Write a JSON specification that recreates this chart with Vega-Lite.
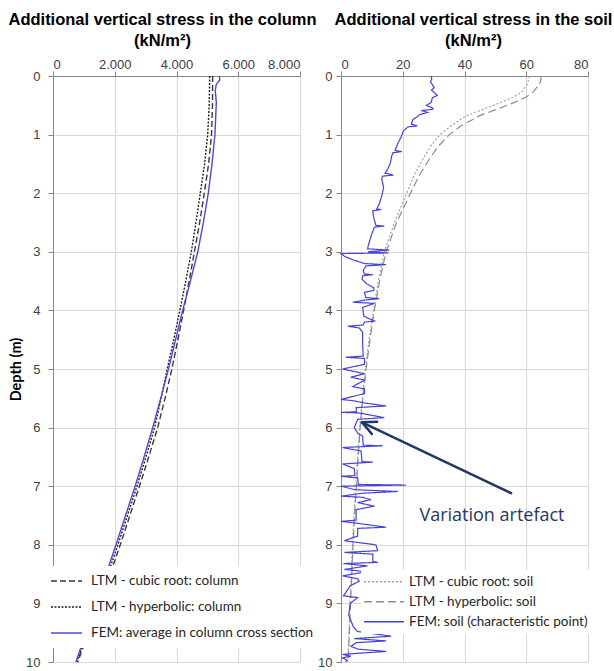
{
  "$schema": "https://vega.github.io/schema/vega-lite/v6.json",
  "background": "white",
  "padding": {"left": 7, "top": 11, "right": 0, "bottom": 0},
  "spacing": 41,
  "bounds": "flush",
  "config": {
    "view": {"stroke": null},
    "axis": {
      "gridColor": "#d9d9d9",
      "domainColor": "#868686",
      "tickColor": "#868686",
      "tickSize": 5,
      "labelFont": "Liberation Sans",
      "labelFontSize": 13,
      "labelColor": "#404040",
      "titleFont": "Liberation Sans",
      "titleFontWeight": "bold",
      "titleColor": "#000000"
    }
  },
  "datasets": {
    "column": [
      {"series": "LTM - cubic root: column", "depth": 0, "stress": 5170},
      {"series": "LTM - cubic root: column", "depth": 0.5, "stress": 5165},
      {"series": "LTM - cubic root: column", "depth": 1, "stress": 5135},
      {"series": "LTM - cubic root: column", "depth": 1.5, "stress": 5040},
      {"series": "LTM - cubic root: column", "depth": 2, "stress": 4900},
      {"series": "LTM - cubic root: column", "depth": 2.5, "stress": 4750},
      {"series": "LTM - cubic root: column", "depth": 3, "stress": 4580},
      {"series": "LTM - cubic root: column", "depth": 3.5, "stress": 4410},
      {"series": "LTM - cubic root: column", "depth": 4, "stress": 4230},
      {"series": "LTM - cubic root: column", "depth": 4.5, "stress": 4045},
      {"series": "LTM - cubic root: column", "depth": 5, "stress": 3850},
      {"series": "LTM - cubic root: column", "depth": 5.5, "stress": 3630},
      {"series": "LTM - cubic root: column", "depth": 6, "stress": 3390},
      {"series": "LTM - cubic root: column", "depth": 6.5, "stress": 3100},
      {"series": "LTM - cubic root: column", "depth": 7, "stress": 2800},
      {"series": "LTM - cubic root: column", "depth": 7.5, "stress": 2490},
      {"series": "LTM - cubic root: column", "depth": 8, "stress": 2180},
      {"series": "LTM - cubic root: column", "depth": 8.5, "stress": 1850},
      {"series": "LTM - cubic root: column", "depth": 9, "stress": 1500},
      {"series": "LTM - cubic root: column", "depth": 9.5, "stress": 1150},
      {"series": "LTM - cubic root: column", "depth": 10, "stress": 800},
      {"series": "LTM - hyperbolic: column", "depth": 0, "stress": 5075},
      {"series": "LTM - hyperbolic: column", "depth": 0.5, "stress": 5060},
      {"series": "LTM - hyperbolic: column", "depth": 1, "stress": 5010},
      {"series": "LTM - hyperbolic: column", "depth": 1.5, "stress": 4910},
      {"series": "LTM - hyperbolic: column", "depth": 2, "stress": 4770},
      {"series": "LTM - hyperbolic: column", "depth": 2.5, "stress": 4630},
      {"series": "LTM - hyperbolic: column", "depth": 3, "stress": 4480},
      {"series": "LTM - hyperbolic: column", "depth": 3.5, "stress": 4300},
      {"series": "LTM - hyperbolic: column", "depth": 4, "stress": 4110},
      {"series": "LTM - hyperbolic: column", "depth": 4.5, "stress": 3910},
      {"series": "LTM - hyperbolic: column", "depth": 5, "stress": 3700},
      {"series": "LTM - hyperbolic: column", "depth": 5.5, "stress": 3500},
      {"series": "LTM - hyperbolic: column", "depth": 6, "stress": 3290},
      {"series": "LTM - hyperbolic: column", "depth": 6.5, "stress": 3010},
      {"series": "LTM - hyperbolic: column", "depth": 7, "stress": 2720},
      {"series": "LTM - hyperbolic: column", "depth": 7.5, "stress": 2410},
      {"series": "LTM - hyperbolic: column", "depth": 8, "stress": 2100},
      {"series": "LTM - hyperbolic: column", "depth": 8.5, "stress": 1780},
      {"series": "LTM - hyperbolic: column", "depth": 9, "stress": 1450},
      {"series": "LTM - hyperbolic: column", "depth": 9.5, "stress": 1110},
      {"series": "LTM - hyperbolic: column", "depth": 10, "stress": 770},
      {"series": "FEM: average in column cross section", "depth": 0, "stress": 5390},
      {"series": "FEM: average in column cross section", "depth": 0.07, "stress": 5400},
      {"series": "FEM: average in column cross section", "depth": 0.14, "stress": 5290},
      {"series": "FEM: average in column cross section", "depth": 0.25, "stress": 5255},
      {"series": "FEM: average in column cross section", "depth": 0.45, "stress": 5290},
      {"series": "FEM: average in column cross section", "depth": 1, "stress": 5245},
      {"series": "FEM: average in column cross section", "depth": 1.5, "stress": 5150},
      {"series": "FEM: average in column cross section", "depth": 2, "stress": 5030},
      {"series": "FEM: average in column cross section", "depth": 2.5, "stress": 4870},
      {"series": "FEM: average in column cross section", "depth": 3, "stress": 4690},
      {"series": "FEM: average in column cross section", "depth": 3.5, "stress": 4450},
      {"series": "FEM: average in column cross section", "depth": 4, "stress": 4200},
      {"series": "FEM: average in column cross section", "depth": 4.5, "stress": 3970},
      {"series": "FEM: average in column cross section", "depth": 5, "stress": 3740},
      {"series": "FEM: average in column cross section", "depth": 5.5, "stress": 3490},
      {"series": "FEM: average in column cross section", "depth": 6, "stress": 3230},
      {"series": "FEM: average in column cross section", "depth": 6.5, "stress": 2950},
      {"series": "FEM: average in column cross section", "depth": 7, "stress": 2660},
      {"series": "FEM: average in column cross section", "depth": 7.5, "stress": 2350},
      {"series": "FEM: average in column cross section", "depth": 8, "stress": 2040},
      {"series": "FEM: average in column cross section", "depth": 8.5, "stress": 1720},
      {"series": "FEM: average in column cross section", "depth": 9, "stress": 1400},
      {"series": "FEM: average in column cross section", "depth": 9.5, "stress": 1070},
      {"series": "FEM: average in column cross section", "depth": 10, "stress": 740}
    ],
    "soil": [
      {"series": "LTM - cubic root: soil", "depth": 0, "stress": 60.8},
      {"series": "LTM - cubic root: soil", "depth": 0.07, "stress": 60.7},
      {"series": "LTM - cubic root: soil", "depth": 0.14, "stress": 60.3},
      {"series": "LTM - cubic root: soil", "depth": 0.28, "stress": 58.4},
      {"series": "LTM - cubic root: soil", "depth": 0.37, "stress": 55.5},
      {"series": "LTM - cubic root: soil", "depth": 0.45, "stress": 51.9},
      {"series": "LTM - cubic root: soil", "depth": 0.56, "stress": 46.4},
      {"series": "LTM - cubic root: soil", "depth": 0.68, "stress": 40.5},
      {"series": "LTM - cubic root: soil", "depth": 0.85, "stress": 35.7},
      {"series": "LTM - cubic root: soil", "depth": 1, "stress": 32.1},
      {"series": "LTM - cubic root: soil", "depth": 1.2, "stress": 29.0},
      {"series": "LTM - cubic root: soil", "depth": 1.42, "stress": 26.5},
      {"series": "LTM - cubic root: soil", "depth": 1.7, "stress": 23.6},
      {"series": "LTM - cubic root: soil", "depth": 2, "stress": 21.3},
      {"series": "LTM - cubic root: soil", "depth": 2.5, "stress": 17.3},
      {"series": "LTM - cubic root: soil", "depth": 3, "stress": 14.0},
      {"series": "LTM - cubic root: soil", "depth": 3.5, "stress": 12.1},
      {"series": "LTM - cubic root: soil", "depth": 4, "stress": 10.5},
      {"series": "LTM - cubic root: soil", "depth": 4.5, "stress": 9.1},
      {"series": "LTM - cubic root: soil", "depth": 5, "stress": 7.9},
      {"series": "LTM - cubic root: soil", "depth": 5.5, "stress": 6.9},
      {"series": "LTM - cubic root: soil", "depth": 6, "stress": 6.0},
      {"series": "LTM - cubic root: soil", "depth": 6.5, "stress": 5.4},
      {"series": "LTM - cubic root: soil", "depth": 7, "stress": 4.8},
      {"series": "LTM - cubic root: soil", "depth": 7.5, "stress": 4.2},
      {"series": "LTM - cubic root: soil", "depth": 8, "stress": 3.7},
      {"series": "LTM - cubic root: soil", "depth": 8.5, "stress": 3.3},
      {"series": "LTM - cubic root: soil", "depth": 9, "stress": 2.9},
      {"series": "LTM - cubic root: soil", "depth": 9.5, "stress": 2.6},
      {"series": "LTM - cubic root: soil", "depth": 10, "stress": 2.2},
      {"series": "LTM - hyperbolic: soil", "depth": 0, "stress": 64.8},
      {"series": "LTM - hyperbolic: soil", "depth": 0.07, "stress": 64.7},
      {"series": "LTM - hyperbolic: soil", "depth": 0.14, "stress": 64.3},
      {"series": "LTM - hyperbolic: soil", "depth": 0.28, "stress": 62.1},
      {"series": "LTM - hyperbolic: soil", "depth": 0.37, "stress": 59.5},
      {"series": "LTM - hyperbolic: soil", "depth": 0.45, "stress": 56.2},
      {"series": "LTM - hyperbolic: soil", "depth": 0.56, "stress": 50.8},
      {"series": "LTM - hyperbolic: soil", "depth": 0.68, "stress": 44.8},
      {"series": "LTM - hyperbolic: soil", "depth": 0.85, "stress": 38.9},
      {"series": "LTM - hyperbolic: soil", "depth": 1, "stress": 35.1},
      {"series": "LTM - hyperbolic: soil", "depth": 1.2, "stress": 31.5},
      {"series": "LTM - hyperbolic: soil", "depth": 1.42, "stress": 28.6},
      {"series": "LTM - hyperbolic: soil", "depth": 1.7, "stress": 25.3},
      {"series": "LTM - hyperbolic: soil", "depth": 2, "stress": 22.5},
      {"series": "LTM - hyperbolic: soil", "depth": 2.5, "stress": 18.0},
      {"series": "LTM - hyperbolic: soil", "depth": 3, "stress": 14.6},
      {"series": "LTM - hyperbolic: soil", "depth": 3.5, "stress": 12.5},
      {"series": "LTM - hyperbolic: soil", "depth": 4, "stress": 10.8},
      {"series": "LTM - hyperbolic: soil", "depth": 4.5, "stress": 9.4},
      {"series": "LTM - hyperbolic: soil", "depth": 5, "stress": 8.1},
      {"series": "LTM - hyperbolic: soil", "depth": 5.5, "stress": 7.1},
      {"series": "LTM - hyperbolic: soil", "depth": 6, "stress": 6.2},
      {"series": "LTM - hyperbolic: soil", "depth": 6.5, "stress": 5.6},
      {"series": "LTM - hyperbolic: soil", "depth": 7, "stress": 5.0},
      {"series": "LTM - hyperbolic: soil", "depth": 7.5, "stress": 4.4},
      {"series": "LTM - hyperbolic: soil", "depth": 8, "stress": 3.9},
      {"series": "LTM - hyperbolic: soil", "depth": 8.5, "stress": 3.5},
      {"series": "LTM - hyperbolic: soil", "depth": 9, "stress": 3.1},
      {"series": "LTM - hyperbolic: soil", "depth": 9.5, "stress": 2.7},
      {"series": "LTM - hyperbolic: soil", "depth": 10, "stress": 2.4},
      {"series": "FEM: soil (characteristic point)", "depth": 0.00, "stress": 29.2},
      {"series": "FEM: soil (characteristic point)", "depth": 0.05, "stress": 29.4},
      {"series": "FEM: soil (characteristic point)", "depth": 0.10, "stress": 29.0},
      {"series": "FEM: soil (characteristic point)", "depth": 0.15, "stress": 29.6},
      {"series": "FEM: soil (characteristic point)", "depth": 0.20, "stress": 30.2},
      {"series": "FEM: soil (characteristic point)", "depth": 0.24, "stress": 29.3},
      {"series": "FEM: soil (characteristic point)", "depth": 0.30, "stress": 30.6},
      {"series": "FEM: soil (characteristic point)", "depth": 0.33, "stress": 31.2},
      {"series": "FEM: soil (characteristic point)", "depth": 0.37, "stress": 29.6},
      {"series": "FEM: soil (characteristic point)", "depth": 0.45, "stress": 29.2},
      {"series": "FEM: soil (characteristic point)", "depth": 0.50, "stress": 27.6},
      {"series": "FEM: soil (characteristic point)", "depth": 0.55, "stress": 29.8},
      {"series": "FEM: soil (characteristic point)", "depth": 0.57, "stress": 29.6},
      {"series": "FEM: soil (characteristic point)", "depth": 0.59, "stress": 26.0},
      {"series": "FEM: soil (characteristic point)", "depth": 0.62, "stress": 28.1},
      {"series": "FEM: soil (characteristic point)", "depth": 0.66, "stress": 25.4},
      {"series": "FEM: soil (characteristic point)", "depth": 0.70, "stress": 24.6},
      {"series": "FEM: soil (characteristic point)", "depth": 0.74, "stress": 23.3},
      {"series": "FEM: soil (characteristic point)", "depth": 0.82, "stress": 22.8},
      {"series": "FEM: soil (characteristic point)", "depth": 0.85, "stress": 24.7},
      {"series": "FEM: soil (characteristic point)", "depth": 0.87, "stress": 21.6},
      {"series": "FEM: soil (characteristic point)", "depth": 0.94, "stress": 20.2},
      {"series": "FEM: soil (characteristic point)", "depth": 1.05, "stress": 19.4},
      {"series": "FEM: soil (characteristic point)", "depth": 1.15, "stress": 18.4},
      {"series": "FEM: soil (characteristic point)", "depth": 1.27, "stress": 17.5},
      {"series": "FEM: soil (characteristic point)", "depth": 1.29, "stress": 19.7},
      {"series": "FEM: soil (characteristic point)", "depth": 1.31, "stress": 16.8},
      {"series": "FEM: soil (characteristic point)", "depth": 1.37, "stress": 16.4},
      {"series": "FEM: soil (characteristic point)", "depth": 1.50, "stress": 15.9},
      {"series": "FEM: soil (characteristic point)", "depth": 1.58, "stress": 15.2},
      {"series": "FEM: soil (characteristic point)", "depth": 1.66, "stress": 14.3},
      {"series": "FEM: soil (characteristic point)", "depth": 1.69, "stress": 17.0},
      {"series": "FEM: soil (characteristic point)", "depth": 1.71, "stress": 13.4},
      {"series": "FEM: soil (characteristic point)", "depth": 1.76, "stress": 13.2},
      {"series": "FEM: soil (characteristic point)", "depth": 1.90, "stress": 13.8},
      {"series": "FEM: soil (characteristic point)", "depth": 2.05, "stress": 13.2},
      {"series": "FEM: soil (characteristic point)", "depth": 2.18, "stress": 12.4},
      {"series": "FEM: soil (characteristic point)", "depth": 2.27, "stress": 11.6},
      {"series": "FEM: soil (characteristic point)", "depth": 2.28, "stress": 13.0},
      {"series": "FEM: soil (characteristic point)", "depth": 2.30, "stress": 10.3},
      {"series": "FEM: soil (characteristic point)", "depth": 2.42, "stress": 10.6},
      {"series": "FEM: soil (characteristic point)", "depth": 2.55, "stress": 11.3},
      {"series": "FEM: soil (characteristic point)", "depth": 2.56, "stress": 14.0},
      {"series": "FEM: soil (characteristic point)", "depth": 2.58, "stress": 10.8},
      {"series": "FEM: soil (characteristic point)", "depth": 2.72, "stress": 9.8},
      {"series": "FEM: soil (characteristic point)", "depth": 2.90, "stress": 8.8},
      {"series": "FEM: soil (characteristic point)", "depth": 2.95, "stress": 8.6},
      {"series": "FEM: soil (characteristic point)", "depth": 2.97, "stress": 15.6},
      {"series": "FEM: soil (characteristic point)", "depth": 3.00, "stress": 8.8},
      {"series": "FEM: soil (characteristic point)", "depth": 3.02, "stress": 15.4},
      {"series": "FEM: soil (characteristic point)", "depth": 3.03, "stress": 0.0},
      {"series": "FEM: soil (characteristic point)", "depth": 3.08, "stress": 1.2},
      {"series": "FEM: soil (characteristic point)", "depth": 3.14, "stress": 4.0},
      {"series": "FEM: soil (characteristic point)", "depth": 3.20, "stress": 7.6},
      {"series": "FEM: soil (characteristic point)", "depth": 3.22, "stress": 14.6},
      {"series": "FEM: soil (characteristic point)", "depth": 3.24, "stress": 8.1},
      {"series": "FEM: soil (characteristic point)", "depth": 3.32, "stress": 7.2},
      {"series": "FEM: soil (characteristic point)", "depth": 3.38, "stress": 7.6},
      {"series": "FEM: soil (characteristic point)", "depth": 3.39, "stress": 10.3},
      {"series": "FEM: soil (characteristic point)", "depth": 3.41, "stress": 7.0},
      {"series": "FEM: soil (characteristic point)", "depth": 3.47, "stress": 6.8},
      {"series": "FEM: soil (characteristic point)", "depth": 3.55, "stress": 8.4},
      {"series": "FEM: soil (characteristic point)", "depth": 3.62, "stress": 10.7},
      {"series": "FEM: soil (characteristic point)", "depth": 3.66, "stress": 10.6},
      {"series": "FEM: soil (characteristic point)", "depth": 3.69, "stress": 7.6},
      {"series": "FEM: soil (characteristic point)", "depth": 3.78, "stress": 8.0},
      {"series": "FEM: soil (characteristic point)", "depth": 3.80, "stress": 12.4},
      {"series": "FEM: soil (characteristic point)", "depth": 3.82, "stress": 8.2},
      {"series": "FEM: soil (characteristic point)", "depth": 3.86, "stress": 3.8},
      {"series": "FEM: soil (characteristic point)", "depth": 3.88, "stress": 10.8},
      {"series": "FEM: soil (characteristic point)", "depth": 3.95, "stress": 7.0},
      {"series": "FEM: soil (characteristic point)", "depth": 4.10, "stress": 7.4},
      {"series": "FEM: soil (characteristic point)", "depth": 4.18, "stress": 10.8},
      {"series": "FEM: soil (characteristic point)", "depth": 4.20, "stress": 7.6},
      {"series": "FEM: soil (characteristic point)", "depth": 4.25, "stress": 7.2},
      {"series": "FEM: soil (characteristic point)", "depth": 4.27, "stress": 2.2},
      {"series": "FEM: soil (characteristic point)", "depth": 4.30, "stress": 5.9},
      {"series": "FEM: soil (characteristic point)", "depth": 4.37, "stress": 7.0},
      {"series": "FEM: soil (characteristic point)", "depth": 4.57, "stress": 7.0},
      {"series": "FEM: soil (characteristic point)", "depth": 4.78, "stress": 7.2},
      {"series": "FEM: soil (characteristic point)", "depth": 4.80, "stress": 1.6},
      {"series": "FEM: soil (characteristic point)", "depth": 4.82, "stress": 7.6},
      {"series": "FEM: soil (characteristic point)", "depth": 4.92, "stress": 7.6},
      {"series": "FEM: soil (characteristic point)", "depth": 4.97, "stress": 3.2},
      {"series": "FEM: soil (characteristic point)", "depth": 5.00, "stress": 0.5},
      {"series": "FEM: soil (characteristic point)", "depth": 5.08, "stress": 7.6},
      {"series": "FEM: soil (characteristic point)", "depth": 5.14, "stress": 3.2},
      {"series": "FEM: soil (characteristic point)", "depth": 5.19, "stress": 7.6},
      {"series": "FEM: soil (characteristic point)", "depth": 5.30, "stress": 3.8},
      {"series": "FEM: soil (characteristic point)", "depth": 5.34, "stress": 7.6},
      {"series": "FEM: soil (characteristic point)", "depth": 5.42, "stress": 7.6},
      {"series": "FEM: soil (characteristic point)", "depth": 5.47, "stress": 3.8},
      {"series": "FEM: soil (characteristic point)", "depth": 5.52, "stress": 0.0},
      {"series": "FEM: soil (characteristic point)", "depth": 5.54, "stress": 3.8},
      {"series": "FEM: soil (characteristic point)", "depth": 5.58, "stress": 7.6},
      {"series": "FEM: soil (characteristic point)", "depth": 5.63, "stress": 14.6},
      {"series": "FEM: soil (characteristic point)", "depth": 5.66, "stress": 4.9},
      {"series": "FEM: soil (characteristic point)", "depth": 5.73, "stress": 5.0},
      {"series": "FEM: soil (characteristic point)", "depth": 5.74, "stress": 0.0},
      {"series": "FEM: soil (characteristic point)", "depth": 5.75, "stress": 5.8},
      {"series": "FEM: soil (characteristic point)", "depth": 5.83, "stress": 14.0},
      {"series": "FEM: soil (characteristic point)", "depth": 5.86, "stress": 5.4},
      {"series": "FEM: soil (characteristic point)", "depth": 6.00, "stress": 4.3},
      {"series": "FEM: soil (characteristic point)", "depth": 6.10, "stress": 5.5},
      {"series": "FEM: soil (characteristic point)", "depth": 6.14, "stress": 7.0},
      {"series": "FEM: soil (characteristic point)", "depth": 6.30, "stress": 7.2},
      {"series": "FEM: soil (characteristic point)", "depth": 6.31, "stress": 13.5},
      {"series": "FEM: soil (characteristic point)", "depth": 6.34, "stress": 0.5},
      {"series": "FEM: soil (characteristic point)", "depth": 6.40, "stress": 6.5},
      {"series": "FEM: soil (characteristic point)", "depth": 6.58, "stress": 6.8},
      {"series": "FEM: soil (characteristic point)", "depth": 6.59, "stress": 10.3},
      {"series": "FEM: soil (characteristic point)", "depth": 6.62, "stress": 0.5},
      {"series": "FEM: soil (characteristic point)", "depth": 6.70, "stress": 4.3},
      {"series": "FEM: soil (characteristic point)", "depth": 6.82, "stress": 4.5},
      {"series": "FEM: soil (characteristic point)", "depth": 6.83, "stress": 0.0},
      {"series": "FEM: soil (characteristic point)", "depth": 6.86, "stress": 5.4},
      {"series": "FEM: soil (characteristic point)", "depth": 6.97, "stress": 5.6},
      {"series": "FEM: soil (characteristic point)", "depth": 6.98, "stress": 21.0},
      {"series": "FEM: soil (characteristic point)", "depth": 7.00, "stress": 0.0},
      {"series": "FEM: soil (characteristic point)", "depth": 7.06, "stress": 4.5},
      {"series": "FEM: soil (characteristic point)", "depth": 7.09, "stress": 18.4},
      {"series": "FEM: soil (characteristic point)", "depth": 7.12, "stress": 7.0},
      {"series": "FEM: soil (characteristic point)", "depth": 7.17, "stress": 0.0},
      {"series": "FEM: soil (characteristic point)", "depth": 7.19, "stress": 7.0},
      {"series": "FEM: soil (characteristic point)", "depth": 7.23, "stress": 9.7},
      {"series": "FEM: soil (characteristic point)", "depth": 7.28, "stress": 5.4},
      {"series": "FEM: soil (characteristic point)", "depth": 7.34, "stress": 10.8},
      {"series": "FEM: soil (characteristic point)", "depth": 7.40, "stress": 4.9},
      {"series": "FEM: soil (characteristic point)", "depth": 7.58, "stress": 4.9},
      {"series": "FEM: soil (characteristic point)", "depth": 7.60, "stress": 0.0},
      {"series": "FEM: soil (characteristic point)", "depth": 7.63, "stress": 4.9},
      {"series": "FEM: soil (characteristic point)", "depth": 7.70, "stress": 14.6},
      {"series": "FEM: soil (characteristic point)", "depth": 7.72, "stress": 5.4},
      {"series": "FEM: soil (characteristic point)", "depth": 7.85, "stress": 5.4},
      {"series": "FEM: soil (characteristic point)", "depth": 7.93, "stress": 1.1},
      {"series": "FEM: soil (characteristic point)", "depth": 8.00, "stress": 11.3},
      {"series": "FEM: soil (characteristic point)", "depth": 8.10, "stress": 11.9},
      {"series": "FEM: soil (characteristic point)", "depth": 8.13, "stress": 1.1},
      {"series": "FEM: soil (characteristic point)", "depth": 8.16, "stress": 10.3},
      {"series": "FEM: soil (characteristic point)", "depth": 8.28, "stress": 10.3},
      {"series": "FEM: soil (characteristic point)", "depth": 8.30, "stress": 11.9},
      {"series": "FEM: soil (characteristic point)", "depth": 8.32, "stress": 0.8},
      {"series": "FEM: soil (characteristic point)", "depth": 8.36, "stress": 8.6},
      {"series": "FEM: soil (characteristic point)", "depth": 8.42, "stress": 1.1},
      {"series": "FEM: soil (characteristic point)", "depth": 8.46, "stress": 8.3},
      {"series": "FEM: soil (characteristic point)", "depth": 8.53, "stress": 0.5},
      {"series": "FEM: soil (characteristic point)", "depth": 8.58, "stress": 5.4},
      {"series": "FEM: soil (characteristic point)", "depth": 8.62, "stress": 5.9},
      {"series": "FEM: soil (characteristic point)", "depth": 8.70, "stress": 3.0},
      {"series": "FEM: soil (characteristic point)", "depth": 8.87, "stress": 0.8},
      {"series": "FEM: soil (characteristic point)", "depth": 8.90, "stress": 5.4},
      {"series": "FEM: soil (characteristic point)", "depth": 9.00, "stress": 3.0},
      {"series": "FEM: soil (characteristic point)", "depth": 9.20, "stress": 2.5},
      {"series": "FEM: soil (characteristic point)", "depth": 9.40, "stress": 4.0},
      {"series": "FEM: soil (characteristic point)", "depth": 9.48, "stress": 5.4},
      {"series": "FEM: soil (characteristic point)", "depth": 9.56, "stress": 16.2},
      {"series": "FEM: soil (characteristic point)", "depth": 9.60, "stress": 4.3},
      {"series": "FEM: soil (characteristic point)", "depth": 9.64, "stress": 14.6},
      {"series": "FEM: soil (characteristic point)", "depth": 9.67, "stress": 5.0},
      {"series": "FEM: soil (characteristic point)", "depth": 9.73, "stress": 3.2},
      {"series": "FEM: soil (characteristic point)", "depth": 9.78, "stress": 5.4},
      {"series": "FEM: soil (characteristic point)", "depth": 9.82, "stress": 14.6},
      {"series": "FEM: soil (characteristic point)", "depth": 9.85, "stress": 5.9},
      {"series": "FEM: soil (characteristic point)", "depth": 9.87, "stress": 0.5},
      {"series": "FEM: soil (characteristic point)", "depth": 9.90, "stress": 3.2},
      {"series": "FEM: soil (characteristic point)", "depth": 9.93, "stress": 0.5},
      {"series": "FEM: soil (characteristic point)", "depth": 9.97, "stress": 2.0},
      {"series": "FEM: soil (characteristic point)", "depth": 10.00, "stress": 1.5}
    ],
    "arrow": [
      {"stress": 55.1, "depth": 7.12, "stress2": 6.8, "depth2": 5.91},
      {"stress": 11.7, "depth": 5.90, "stress2": 6.8, "depth2": 5.91},
      {"stress": 10.0, "depth": 6.11, "stress2": 6.8, "depth2": 5.91}
    ],
    "note": [
      {"stress": 48.9, "depth": 7.51, "label": "Variation artefact"}
    ]
  },
  "hconcat": [
    {
      "width": 247,
      "height": 586,
      "data": {"name": "column"},
      "mark": {"type": "line", "strokeWidth": 1.4},
      "encoding": {
        "x": {
          "field": "stress", "type": "quantitative",
          "scale": {"domain": [0, 8000], "nice": false, "zero": false},
          "axis": {
            "orient": "top", "values": [0, 2000, 4000, 6000, 8000], "grid": true,
            "labelExpr": "replace(format(datum.value, ','), ',', '.')",
            "labelPadding": 0,
            "title": ["Additional vertical stress in the column", "(kN/m²)"],
            "titleFontSize": 16.5, "titleLineHeight": 21.7,
            "titleX": 109, "titleY": -57, "titleAlign": "center", "titleBaseline": "middle", "titleAngle": 0
          }
        },
        "y": {
          "field": "depth", "type": "quantitative",
          "scale": {"domain": [0, 10], "reverse": true, "nice": false},
          "axis": {
            "values": [0, 1, 2, 3, 4, 5, 6, 7, 8, 9, 10], "format": "d", "grid": true, "labelPadding": 8,
            "title": "Depth (m)", "titleFont": "Lato", "titleFontSize": 14.5,
            "titleX": -37, "titleY": 293, "titleAngle": -90, "titleAlign": "center", "titleBaseline": "middle"
          }
        },
        "color": {
          "field": "series", "type": "nominal",
          "scale": {"domain": ["LTM - cubic root: column", "LTM - hyperbolic: column", "FEM: average in column cross section"], "range": ["#3a3a3a", "#1e1e1e", "#4a4ae0"]},
          "legend": {
            "orient": "none", "legendX": -5, "legendY": 490, "title": null, "fillColor": "white",
            "padding": 2, "symbolType": "stroke", "symbolSize": 961, "symbolStrokeWidth": 1.5,
            "clipHeight": 26, "rowPadding": 0, "labelOffset": 8, "labelFont": "Lato", "labelFontSize": 13.5,
            "labelColor": "#262626", "labelLimit": 400
          }
        },
        "strokeDash": {
          "field": "series", "type": "nominal",
          "scale": {"domain": ["LTM - cubic root: column", "LTM - hyperbolic: column", "FEM: average in column cross section"], "range": [[6, 3], [2, 1.5], [1, 0]]},
          "legend": {
            "orient": "none", "legendX": -5, "legendY": 490, "title": null, "fillColor": "white",
            "padding": 2, "symbolType": "stroke", "symbolSize": 961, "symbolStrokeWidth": 1.5,
            "clipHeight": 26, "rowPadding": 0, "labelOffset": 8, "labelFont": "Lato", "labelFontSize": 13.5,
            "labelColor": "#262626", "labelLimit": 400
          }
        },
        "order": {"value": null}
      }
    },
    {
      "width": 247,
      "height": 586,
      "layer": [
        {
          "data": {"name": "soil"},
          "mark": {"type": "line", "strokeWidth": 1.2},
          "encoding": {
            "x": {
              "field": "stress", "type": "quantitative",
              "scale": {"domain": [0, 80], "nice": false, "zero": false},
              "axis": {
                "orient": "top", "values": [0, 20, 40, 60, 80], "grid": true,
                "labelPadding": 0,
                "title": ["Additional vertical stress in the soil", "(kN/m²)"],
                "titleFontSize": 16.5, "titleLineHeight": 21.7,
                "titleX": 132, "titleY": -57, "titleAlign": "center", "titleBaseline": "middle", "titleAngle": 0
              }
            },
            "y": {
              "field": "depth", "type": "quantitative",
              "scale": {"domain": [0, 10], "reverse": true, "nice": false},
              "axis": {"values": [0, 1, 2, 3, 4, 5, 6, 7, 8, 9, 10], "format": "d", "grid": true, "labelPadding": 4, "title": null}
            },
            "color": {
              "field": "series", "type": "nominal",
              "scale": {"domain": ["LTM - cubic root: soil", "LTM - hyperbolic: soil", "FEM: soil (characteristic point)"], "range": ["#a0a0a0", "#8c8c8c", "#4444dd"]},
              "legend": {
                "orient": "none", "legendX": 20, "legendY": 494, "title": null, "fillColor": "white",
                "padding": 2, "symbolType": "stroke", "symbolSize": 1600, "symbolStrokeWidth": 1.3,
                "clipHeight": 19.5, "rowPadding": 0, "labelOffset": 4, "labelFont": "Lato", "labelFontSize": 13.5,
                "labelColor": "#262626", "labelLimit": 400
              }
            },
            "strokeDash": {
              "field": "series", "type": "nominal",
              "scale": {"domain": ["LTM - cubic root: soil", "LTM - hyperbolic: soil", "FEM: soil (characteristic point)"], "range": [[2, 2], [8, 4], [1, 0]]},
              "legend": {
                "orient": "none", "legendX": 20, "legendY": 494, "title": null, "fillColor": "white",
                "padding": 2, "symbolType": "stroke", "symbolSize": 1600, "symbolStrokeWidth": 1.3,
                "clipHeight": 19.5, "rowPadding": 0, "labelOffset": 4, "labelFont": "Lato", "labelFontSize": 13.5,
                "labelColor": "#262626", "labelLimit": 400
              }
            },
            "order": {"value": null}
          }
        },
        {
          "data": {"name": "arrow"},
          "mark": {"type": "rule", "color": "#1f3864", "strokeWidth": 2.5, "strokeCap": "round"},
          "encoding": {
            "x": {"field": "stress", "type": "quantitative"},
            "y": {"field": "depth", "type": "quantitative"},
            "x2": {"field": "stress2"},
            "y2": {"field": "depth2"}
          }
        },
        {
          "data": {"name": "note"},
          "mark": {"type": "text", "color": "#1f3864", "font": "Open Sans", "fontSize": 18, "align": "center", "baseline": "middle"},
          "encoding": {
            "x": {"field": "stress", "type": "quantitative"},
            "y": {"field": "depth", "type": "quantitative"},
            "text": {"field": "label"}
          }
        }
      ]
    }
  ],
  "resolve": {
    "scale": {"x": "independent", "y": "independent", "color": "independent", "strokeDash": "independent"},
    "legend": {"color": "independent", "strokeDash": "independent"}
  }
}
